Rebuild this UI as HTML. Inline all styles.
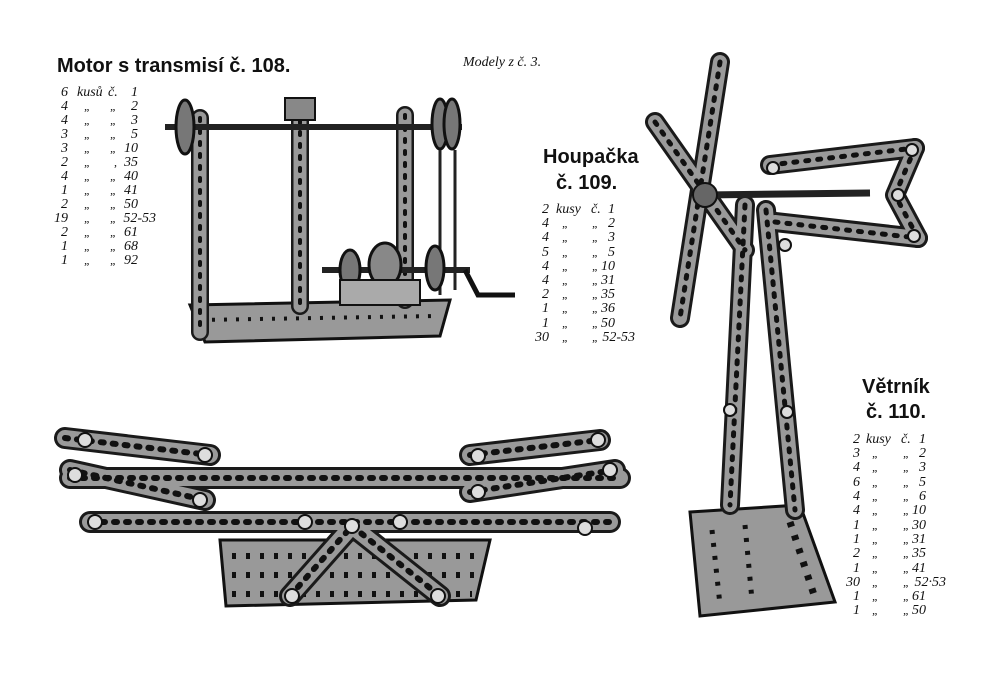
<!DOCTYPE html>
<html><head><meta charset="utf-8"><style>
html,body{margin:0;padding:0;background:#fff}
svg{display:block}
.o{stroke:#1a1a1a;fill:none;stroke-linecap:round}
.i{stroke:#9a9a9a;fill:none;stroke-linecap:round}
.h{stroke:#111;fill:none;stroke-dasharray:3 9;stroke-linecap:round}
.t{font-family:"Liberation Serif",serif;font-style:italic;font-size:14px;fill:#111}
.d{font-family:"Liberation Serif",serif;font-style:italic;font-size:12px;fill:#111}
.hd{font-family:"Liberation Sans",sans-serif;font-weight:bold;fill:#111}
</style></head><body>
<svg width="1000" height="700" viewBox="0 0 1000 700" xmlns="http://www.w3.org/2000/svg">
<defs>
<path id="a1" d="M200 118 L200 332"/>
<path id="a2" d="M300 108 L300 306"/>
<path id="a3" d="M405 115 L405 300"/>
<path id="b1" d="M70 478 L620 478"/>
<path id="b2" d="M90 522 L610 522"/>
<path id="b3" d="M65 438 L210 455"/>
<path id="b4" d="M70 470 L205 500"/>
<path id="b5" d="M470 455 L600 440"/>
<path id="b6" d="M470 492 L615 470"/>
<path id="b7" d="M290 596 L352 526"/>
<path id="b8" d="M352 526 L440 596"/>
<path id="w1" d="M720 62 L680 318"/>
<path id="w2" d="M655 122 L745 250"/>
<path id="w3" d="M745 205 L730 505"/>
<path id="w4" d="M766 210 L795 510"/>
<path id="w5" d="M770 165 L915 148"/>
<path id="w6" d="M775 222 L918 238"/>
<path id="w7" d="M915 148 L895 195 L918 238"/>
</defs>

<!-- Motor -->
<polygon points="190,305 450,300 440,336 205,342" fill="#999" stroke="#111" stroke-width="3"/>
<line x1="200" y1="320" x2="435" y2="316" stroke="#111" stroke-width="4" stroke-dasharray="3 9"/>
<g stroke-width="18"><use href="#a1" class="o"/><use href="#a2" class="o"/><use href="#a3" class="o"/></g>
<g stroke-width="13"><use href="#a1" class="i"/><use href="#a2" class="i"/><use href="#a3" class="i"/></g>
<g stroke-width="4"><use href="#a1" class="h"/><use href="#a2" class="h"/><use href="#a3" class="h"/></g>
<line x1="165" y1="127" x2="462" y2="127" stroke="#222" stroke-width="6"/>
<ellipse cx="185" cy="127" rx="9" ry="27" fill="#777" stroke="#111" stroke-width="3"/>
<ellipse cx="440" cy="124" rx="8" ry="25" fill="#777" stroke="#111" stroke-width="3"/>
<ellipse cx="452" cy="124" rx="8" ry="25" fill="#777" stroke="#111" stroke-width="3"/>
<rect x="285" y="98" width="30" height="22" fill="#888" stroke="#111" stroke-width="2"/>
<line x1="440" y1="150" x2="440" y2="295" stroke="#222" stroke-width="3"/>
<line x1="455" y1="150" x2="455" y2="290" stroke="#222" stroke-width="3"/>
<line x1="322" y1="270" x2="470" y2="270" stroke="#222" stroke-width="6"/>
<ellipse cx="350" cy="270" rx="10" ry="20" fill="#777" stroke="#111" stroke-width="3"/>
<ellipse cx="385" cy="265" rx="16" ry="22" fill="#888" stroke="#111" stroke-width="3"/>
<ellipse cx="435" cy="268" rx="9" ry="22" fill="#777" stroke="#111" stroke-width="3"/>
<polyline points="465,270 478,295 515,295" fill="none" stroke="#111" stroke-width="5"/>
<rect x="340" y="280" width="80" height="25" fill="#aaa" stroke="#111" stroke-width="2"/>

<!-- Seesaw -->
<polygon points="220,540 490,540 476,600 226,606" fill="#999" stroke="#111" stroke-width="3"/>
<line x1="232" y1="556" x2="480" y2="556" stroke="#111" stroke-width="6" stroke-dasharray="4 10"/>
<line x1="232" y1="575" x2="476" y2="575" stroke="#111" stroke-width="6" stroke-dasharray="4 10"/>
<line x1="232" y1="594" x2="472" y2="594" stroke="#111" stroke-width="6" stroke-dasharray="4 10"/>
<g stroke-width="22">
<use href="#b1" class="o"/><use href="#b2" class="o"/><use href="#b3" class="o"/><use href="#b4" class="o"/><use href="#b5" class="o"/><use href="#b6" class="o"/><use href="#b7" class="o"/><use href="#b8" class="o"/></g>
<g stroke-width="16">
<use href="#b1" class="i"/><use href="#b2" class="i"/><use href="#b3" class="i"/><use href="#b4" class="i"/><use href="#b5" class="i"/><use href="#b6" class="i"/><use href="#b7" class="i"/><use href="#b8" class="i"/></g>
<g stroke-width="6">
<use href="#b1" class="h"/><use href="#b2" class="h"/><use href="#b3" class="h"/><use href="#b4" class="h"/><use href="#b5" class="h"/><use href="#b6" class="h"/><use href="#b7" class="h"/><use href="#b8" class="h"/></g>
<g fill="#ddd" stroke="#111" stroke-width="2">
<circle cx="85" cy="440" r="7"/><circle cx="205" cy="455" r="7"/><circle cx="75" cy="475" r="7"/><circle cx="200" cy="500" r="7"/>
<circle cx="478" cy="456" r="7"/><circle cx="598" cy="440" r="7"/><circle cx="478" cy="492" r="7"/><circle cx="610" cy="470" r="7"/>
<circle cx="95" cy="522" r="7"/><circle cx="305" cy="522" r="7"/><circle cx="400" cy="522" r="7"/><circle cx="585" cy="528" r="7"/>
<circle cx="352" cy="526" r="7"/><circle cx="292" cy="596" r="7"/><circle cx="438" cy="596" r="7"/></g>

<!-- Windmill -->
<polygon points="690,512 800,505 835,602 700,616" fill="#999" stroke="#111" stroke-width="3"/>
<line x1="712" y1="530" x2="720" y2="605" stroke="#111" stroke-width="5" stroke-dasharray="4 9"/>
<line x1="745" y1="525" x2="752" y2="600" stroke="#111" stroke-width="5" stroke-dasharray="4 9"/>
<line x1="790" y1="522" x2="815" y2="598" stroke="#111" stroke-width="7" stroke-dasharray="5 9"/>
<g stroke-width="20">
<use href="#w3" class="o"/><use href="#w4" class="o"/><use href="#w1" class="o"/><use href="#w2" class="o"/><use href="#w5" class="o"/><use href="#w6" class="o"/><use href="#w7" class="o" stroke-linejoin="round"/></g>
<g stroke-width="14">
<use href="#w3" class="i"/><use href="#w4" class="i"/><use href="#w1" class="i"/><use href="#w2" class="i"/><use href="#w5" class="i"/><use href="#w6" class="i"/><use href="#w7" class="i" stroke-linejoin="round"/></g>
<g stroke-width="5">
<use href="#w3" class="h"/><use href="#w4" class="h"/><use href="#w1" class="h"/><use href="#w2" class="h"/><use href="#w5" class="h"/><use href="#w6" class="h"/><use href="#w7" class="h"/></g>
<line x1="705" y1="195" x2="870" y2="193" stroke="#222" stroke-width="7"/>
<circle cx="705" cy="195" r="12" fill="#666" stroke="#111" stroke-width="2"/>
<g fill="#ddd" stroke="#111" stroke-width="2">
<circle cx="773" cy="168" r="6"/><circle cx="912" cy="150" r="6"/><circle cx="898" cy="195" r="6"/><circle cx="914" cy="236" r="6"/>
<circle cx="785" cy="245" r="6"/><circle cx="730" cy="410" r="6"/><circle cx="787" cy="412" r="6"/></g>

<!-- Text -->
<text class="hd" x="57" y="72" font-size="20">Motor s transmisí č. 108.</text>
<text class="t" x="463" y="66" font-size="13">Modely z č. 3.</text>
<text class="hd" x="543" y="163" font-size="20">Houpačka</text>
<text class="hd" x="556" y="189" font-size="20">č. 109.</text>
<text class="hd" x="862" y="393" font-size="20">Větrník</text>
<text class="hd" x="866" y="418" font-size="20">č. 110.</text>

<g class="t">
<g text-anchor="end">
<text x="68" y="96">6</text><text x="68" y="110">4</text><text x="68" y="124">4</text><text x="68" y="138">3</text><text x="68" y="152">3</text><text x="68" y="166">2</text><text x="68" y="180">4</text><text x="68" y="194">1</text><text x="68" y="208">2</text><text x="68" y="222">19</text><text x="68" y="236">2</text><text x="68" y="250">1</text><text x="68" y="264">1</text>
<text x="138" y="96">1</text><text x="138" y="110">2</text><text x="138" y="124">3</text><text x="138" y="138">5</text><text x="138" y="152">10</text><text x="138" y="166">35</text><text x="138" y="180">40</text><text x="138" y="194">41</text><text x="138" y="208">50</text><text x="156" y="222">52-53</text><text x="138" y="236">61</text><text x="138" y="250">68</text><text x="138" y="264">92</text>
</g>
<text x="77" y="96">kusů</text><text x="108" y="96">č.</text>
</g>
<g class="d">
<text x="84" y="110">„</text><text x="110" y="110">„</text>
<text x="84" y="124">„</text><text x="110" y="124">„</text>
<text x="84" y="138">„</text><text x="110" y="138">„</text>
<text x="84" y="152">„</text><text x="110" y="152">„</text>
<text x="84" y="166">„</text><text x="114" y="166">,</text>
<text x="84" y="180">„</text><text x="110" y="180">„</text>
<text x="84" y="194">„</text><text x="110" y="194">„</text>
<text x="84" y="208">„</text><text x="110" y="208">„</text>
<text x="84" y="222">„</text><text x="110" y="222">„</text>
<text x="84" y="236">„</text><text x="110" y="236">„</text>
<text x="84" y="250">„</text><text x="110" y="250">„</text>
<text x="84" y="264">„</text><text x="110" y="264">„</text>
</g>

<g class="t">
<g text-anchor="end">
<text x="549" y="213">2</text><text x="549" y="227">4</text><text x="549" y="241">4</text><text x="549" y="256">5</text><text x="549" y="270">4</text><text x="549" y="284">4</text><text x="549" y="298">2</text><text x="549" y="312">1</text><text x="549" y="327">1</text><text x="549" y="341">30</text>
<text x="615" y="213">1</text><text x="615" y="227">2</text><text x="615" y="241">3</text><text x="615" y="256">5</text><text x="615" y="270">10</text><text x="615" y="284">31</text><text x="615" y="298">35</text><text x="615" y="312">36</text><text x="615" y="327">50</text><text x="635" y="341">52-53</text>
</g>
<text x="556" y="213">kusy</text><text x="591" y="213">č.</text>
</g>
<g class="d">
<text x="562" y="227">„</text><text x="592" y="227">„</text>
<text x="562" y="241">„</text><text x="592" y="241">„</text>
<text x="562" y="256">„</text><text x="592" y="256">„</text>
<text x="562" y="270">„</text><text x="592" y="270">„</text>
<text x="562" y="284">„</text><text x="592" y="284">„</text>
<text x="562" y="298">„</text><text x="592" y="298">„</text>
<text x="562" y="312">„</text><text x="592" y="312">„</text>
<text x="562" y="327">„</text><text x="592" y="327">„</text>
<text x="562" y="341">„</text><text x="592" y="341">„</text>
</g>

<g class="t">
<g text-anchor="end">
<text x="860" y="443">2</text><text x="860" y="457">3</text><text x="860" y="471">4</text><text x="860" y="486">6</text><text x="860" y="500">4</text><text x="860" y="514">4</text><text x="860" y="529">1</text><text x="860" y="543">1</text><text x="860" y="557">2</text><text x="860" y="572">1</text><text x="860" y="586">30</text><text x="860" y="600">1</text><text x="860" y="614">1</text>
<text x="926" y="443">1</text><text x="926" y="457">2</text><text x="926" y="471">3</text><text x="926" y="486">5</text><text x="926" y="500">6</text><text x="926" y="514">10</text><text x="926" y="529">30</text><text x="926" y="543">31</text><text x="926" y="557">35</text><text x="926" y="572">41</text><text x="946" y="586">52·53</text><text x="926" y="600">61</text><text x="926" y="614">50</text>
</g>
<text x="866" y="443">kusy</text><text x="901" y="443">č.</text>
</g>
<g class="d">
<text x="872" y="457">„</text><text x="903" y="457">„</text>
<text x="872" y="471">„</text><text x="903" y="471">„</text>
<text x="872" y="486">„</text><text x="903" y="486">„</text>
<text x="872" y="500">„</text><text x="903" y="500">„</text>
<text x="872" y="514">„</text><text x="903" y="514">„</text>
<text x="872" y="529">„</text><text x="903" y="529">„</text>
<text x="872" y="543">„</text><text x="903" y="543">„</text>
<text x="872" y="557">„</text><text x="903" y="557">„</text>
<text x="872" y="572">„</text><text x="903" y="572">„</text>
<text x="872" y="586">„</text><text x="903" y="586">„</text>
<text x="872" y="600">„</text><text x="903" y="600">„</text>
<text x="872" y="614">„</text><text x="903" y="614">„</text>
</g>
</svg>
</body></html>
